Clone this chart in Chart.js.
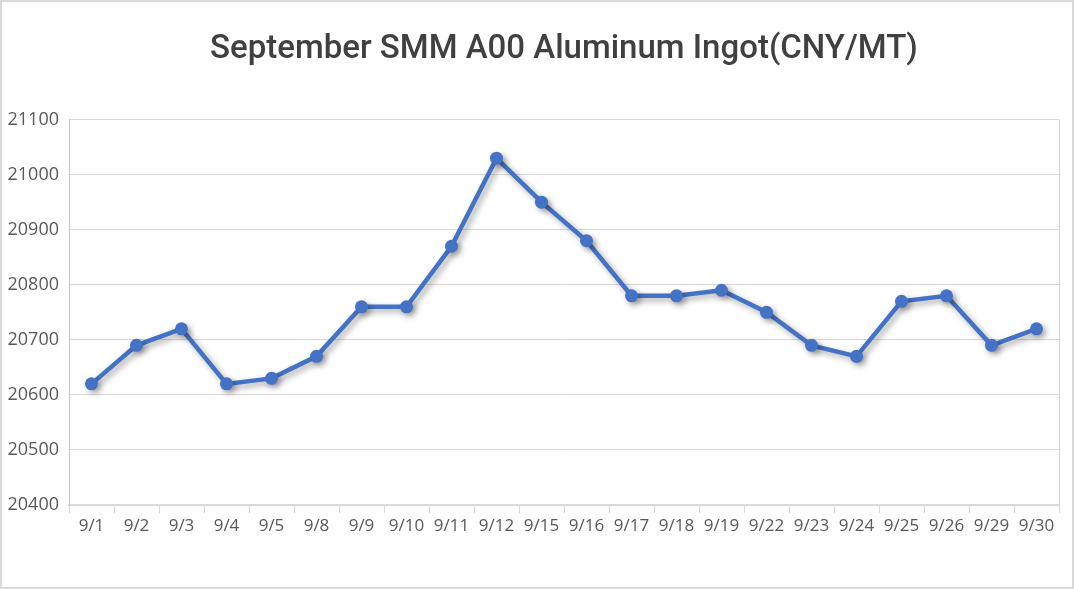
<!DOCTYPE html>
<html>
<head>
<meta charset="utf-8">
<script src="https://cdn.jsdelivr.net/npm/chart.js@4"></script>
<style>
  html, body { margin: 0; padding: 0; background: #fff; }
  #wrap { width: 1074px; height: 589px; box-sizing: border-box; border: 2px solid #d9d9d9; }
</style>
</head>
<body>
<div id="wrap"><canvas id="alChart" width="1070" height="585"></canvas></div>
<script>
// September SMM A00 aluminium ingot prices
var dates = ['9/1', '9/2', '9/3', '9/4', '9/5', '9/8', '9/9', '9/10', '9/11', '9/12', '9/15',
             '9/16', '9/17', '9/18', '9/19', '9/22', '9/23', '9/24', '9/25', '9/26', '9/29', '9/30'];
var prices = [20620, 20690, 20720, 20620, 20630, 20670, 20760, 20760, 20870, 21030, 20950,
              20880, 20780, 20780, 20790, 20750, 20690, 20670, 20770, 20780, 20690, 20720];
var yTicks = [20400, 20500, 20600, 20700, 20800, 20900, 21000, 21100];

// drop shadow under the line, and a right edge on the plot area
var shadowPlugin = {
    id: 'shadow',
    beforeDatasetDraw: function (chart) {
        var c = chart.ctx;
        c.save();
        c.shadowColor = 'rgba(0,0,0,0.35)';
        c.shadowBlur = 6;
        c.shadowOffsetX = 3;
        c.shadowOffsetY = 3;
    },
    afterDatasetDraw: function (chart) {
        chart.ctx.restore();
    },
    beforeDatasetsDraw: function (chart) {
        var c = chart.ctx, a = chart.chartArea;
        c.save();
        c.strokeStyle = '#c9d6ee';
        c.lineWidth = 1;
        c.beginPath();
        c.moveTo(a.right + 0.5, a.top);
        c.lineTo(a.right + 0.5, a.bottom);
        c.stroke();
        c.restore();
    }
};

var ctx = document.getElementById('alChart').getContext('2d');
new Chart(ctx, {
    type: 'line',
    data: {
        labels: dates,
        datasets: [{
            data: prices,
            borderColor: '#4472c4',
            backgroundColor: '#4472c4',
            borderWidth: 4.5,
            pointRadius: 6.5,
            pointBorderWidth: 0,
            tension: 0,
            fill: false
        }]
    },
    options: {
        responsive: false,
        animation: false,
        layout: { padding: { left: 0, right: 13, top: 0, bottom: 0 } },
        plugins: {
            legend: { display: false },
            tooltip: { enabled: false },
            title: {
                display: true,
                fullSize: false,
                text: 'September SMM A00 Aluminum Ingot(CNY/MT)',
                color: '#404040',
                font: { family: 'Roboto', size: 33, weight: '500' },
                padding: { top: 28, bottom: 50 }
            }
        },
        scales: {
            x: {
                offset: true,
                grid: { drawOnChartArea: false, drawTicks: true, tickLength: 8, color: '#d9d9d9', offset: true },
                border: { color: '#d9d9d9', width: 2 },
                ticks: { color: '#595959', font: { family: 'Open Sans', size: 17 }, padding: 3, maxRotation: 0, autoSkip: false },
                afterFit: function (s) { s.height = 82; }
            },
            y: {
                min: 20400,
                max: 21100,
                afterBuildTicks: function (s) { s.ticks = yTicks.map(function (v) { return { value: v }; }); },
                grid: { color: '#d9d9d9', drawTicks: false },
                border: { color: '#b4c7e7', width: 1 },
                ticks: {
                    color: '#595959',
                    font: { family: 'Open Sans', size: 18 },
                    padding: 10,
                    callback: function (v) { return String(v); }
                },
                afterFit: function (s) { s.width = 67; }
            }
        }
    },
    plugins: [shadowPlugin]
});
</script>
</body>
</html>
